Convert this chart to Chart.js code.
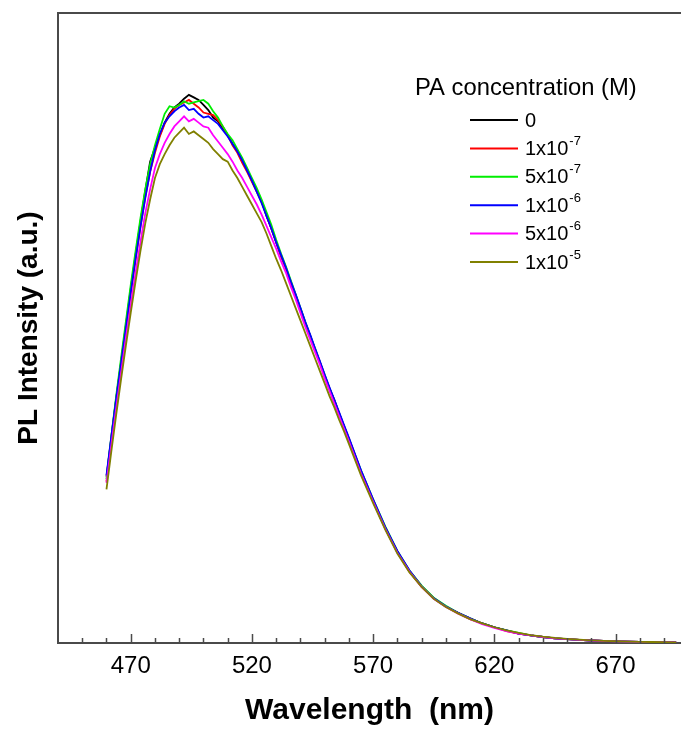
<!DOCTYPE html>
<html>
<head>
<meta charset="utf-8">
<script src="https://cdn.jsdelivr.net/npm/chart.js@4/dist/chart.umd.min.js"></script>
<style>
  html, body { margin: 0; padding: 0; background: #fff; overflow: hidden; }
  canvas { display: block; }
</style>
</head>
<body>
<canvas id="plChart" width="681" height="729"></canvas>
<script>
// wavelength grid (nm)
const wavelengths = [
  460, 462, 464, 466, 468, 470, 472, 474, 476, 478,
  480, 482, 484, 486, 488, 490, 492, 494, 496, 498,
  500, 502, 504, 506, 508, 510, 512, 514, 516, 518,
  520, 522, 524, 526, 528, 530, 532, 534, 536, 538,
  540, 542, 544, 546, 548, 550, 552, 554, 556, 558,
  560, 565, 570, 575, 580, 585, 590, 595, 600, 605,
  610, 615, 620, 625, 630, 635, 640, 645, 650, 655,
  660, 665, 670, 675, 680, 685, 690, 695
];

const seriesLabels = ["0", "1x10", "5x10", "1x10", "5x10", "1x10"];
const seriesExponents = ["", "-7", "-7", "-6", "-6", "-5"];
const seriesColors = ["#000000", "#ff0000", "#00ee00", "#0000ff", "#ff00ff", "#808000"];

const pa0 = [
  26.4, 32.6, 38.8, 44.6, 50.4, 56.2, 61.6, 66.8, 71.8, 76.4,
  78.6, 80.6, 82.6, 84.0, 85.0, 85.6, 86.4, 87.0, 86.6, 86.2,
  85.4, 84.6, 83.4, 82.8, 81.6, 80.6, 79.2, 78.2, 76.4, 75.2,
  73.4, 71.8, 70.2, 67.8, 65.8, 63.6, 61.4, 59.6, 57.2, 55.2,
  53.0, 50.8, 48.8, 46.6, 44.6, 42.4, 40.4, 38.6, 36.4, 34.4,
  32.4, 27.2, 22.6, 18.3, 14.5, 11.4, 9.0, 7.1, 5.8, 4.8,
  3.9, 3.1, 2.5, 2.0, 1.5, 1.2, 0.95, 0.75, 0.6, 0.48,
  0.4, 0.32, 0.26, 0.21, 0.17, 0.14, 0.12, 0.1
];
const pa1e7 = [
  25.6, 32.0, 38.2, 44.0, 49.8, 55.4, 60.8, 66.0, 70.8, 74.8,
  77.8, 80.4, 82.4, 83.8, 84.8, 85.4, 85.8, 86.2, 85.6, 85.0,
  84.2, 84.0, 83.8, 83.0, 82.0, 80.6, 79.0, 77.8, 76.2, 74.8,
  73.2, 71.6, 70.0, 68.0, 65.8, 63.6, 61.4, 59.4, 57.2, 55.2,
  53.0, 50.8, 48.8, 46.6, 44.6, 42.4, 40.4, 38.4, 36.4, 34.4,
  32.4, 27.0, 22.5, 18.2, 14.4, 11.3, 8.9, 7.1, 5.8, 4.7,
  3.8, 3.1, 2.5, 1.9, 1.5, 1.2, 0.95, 0.75, 0.6, 0.48,
  0.4, 0.32, 0.26, 0.21, 0.17, 0.14, 0.12, 0.1
];
const pa5e7 = [
  26.0, 32.8, 39.2, 45.2, 51.0, 56.8, 62.2, 67.4, 72.0, 76.0,
  79.0, 81.6, 84.0, 85.2, 85.0, 85.4, 86.0, 85.6, 85.8, 86.0,
  86.2, 85.6, 84.4, 83.4, 82.0, 80.8, 79.8, 78.4, 77.0, 75.4,
  73.8, 72.2, 70.4, 68.4, 66.4, 64.0, 61.8, 59.8, 57.6, 55.4,
  53.2, 51.0, 48.8, 46.8, 44.6, 42.6, 40.4, 38.4, 36.4, 34.4,
  32.4, 27.4, 22.8, 18.5, 14.6, 11.5, 9.1, 7.2, 5.9, 4.8,
  3.9, 3.1, 2.5, 2.0, 1.6, 1.2, 0.95, 0.75, 0.6, 0.48,
  0.4, 0.32, 0.26, 0.21, 0.17, 0.14, 0.12, 0.1
];
const pa1e6 = [
  26.6, 32.8, 38.8, 44.4, 50.0, 55.6, 61.0, 66.0, 70.6, 74.8,
  78.2, 80.8, 82.6, 83.6, 84.4, 85.0, 85.4, 84.6, 84.8, 84.0,
  83.4, 83.6, 83.0, 82.4, 81.4, 80.4, 79.2, 78.0, 76.6, 75.0,
  73.4, 71.6, 69.8, 67.8, 65.8, 63.6, 61.6, 59.6, 57.4, 55.4,
  53.2, 51.0, 49.0, 46.8, 44.8, 42.6, 40.6, 38.6, 36.6, 34.6,
  32.6, 27.4, 22.8, 18.4, 14.6, 11.5, 9.0, 7.1, 5.8, 4.8,
  3.9, 3.1, 2.5, 2.0, 1.5, 1.2, 0.95, 0.75, 0.6, 0.48,
  0.4, 0.32, 0.26, 0.21, 0.17, 0.14, 0.12, 0.1
];
const pa5e6 = [
  25.4, 31.4, 37.2, 42.8, 48.4, 53.6, 58.8, 63.6, 68.2, 72.0,
  75.4, 77.6, 79.4, 80.8, 82.0, 82.8, 83.6, 82.8, 83.2, 82.6,
  82.0, 81.8, 80.6, 79.6, 78.6, 77.6, 76.4, 75.0, 73.8, 72.4,
  71.0, 69.6, 68.0, 66.2, 64.4, 62.6, 60.6, 58.8, 56.6, 54.6,
  52.4, 50.2, 48.2, 46.2, 44.2, 42.0, 40.0, 38.0, 36.0, 34.0,
  32.0, 26.9, 22.4, 18.1, 14.3, 11.3, 8.9, 7.0, 5.7, 4.7,
  3.8, 3.0, 2.4, 1.9, 1.5, 1.2, 0.95, 0.75, 0.6, 0.48,
  0.4, 0.32, 0.26, 0.21, 0.17, 0.14, 0.12, 0.1
];
const pa1e5 = [
  24.4, 30.4, 36.2, 41.8, 47.2, 52.4, 57.4, 62.2, 66.6, 70.4,
  73.8, 76.0, 77.6, 79.0, 80.2, 81.0, 81.8, 80.8, 81.2, 80.6,
  80.0, 79.4, 78.4, 77.6, 76.8, 76.4, 75.0, 73.8, 72.4, 71.0,
  69.6, 68.2, 66.8, 65.0, 63.0, 61.0, 59.2, 57.2, 55.2, 53.2,
  51.2, 49.2, 47.2, 45.2, 43.2, 41.2, 39.2, 37.4, 35.4, 33.6,
  31.6, 26.6, 22.2, 18.0, 14.2, 11.2, 8.9, 7.0, 5.7, 4.7,
  3.8, 3.1, 2.5, 2.0, 1.6, 1.25, 1.0, 0.8, 0.65, 0.52,
  0.43, 0.35, 0.28, 0.23, 0.19, 0.16, 0.13, 0.11
];

const xTicks = [470, 520, 570, 620, 670];
const axisColor = "#4a4a4a";
const fontFamily = '"Liberation Sans", Arial, Helvetica, sans-serif';

Chart.defaults.font.family = fontFamily;
Chart.defaults.color = "#000";

const allSeries = [pa0, pa1e7, pa5e7, pa1e6, pa5e6, pa1e5];

const datasets = allSeries.map((values, i) => ({
  label: seriesLabels[i] + seriesExponents[i],
  data: values.map((v, j) => ({ x: wavelengths[j], y: v })),
  borderColor: seriesColors[i],
  borderWidth: 1.8,
  pointRadius: 0,
  tension: 0,
  fill: false,
  order: allSeries.length - i,
}));

// inward ticks on the x axis + top frame line
const framePlugin = {
  id: "frame",
  afterDraw(chart) {
    const { ctx, chartArea } = chart;
    const x = chart.scales.x;
    ctx.save();
    ctx.strokeStyle = axisColor;
    ctx.lineWidth = 2;
    ctx.beginPath();
    ctx.moveTo(chartArea.left - 1, chartArea.top);
    ctx.lineTo(chartArea.right, chartArea.top);
    ctx.stroke();

    ctx.lineWidth = 1.5;
    for (let v = 450; v <= 690; v += 10) {
      const px = Math.round(x.getPixelForValue(v)) + 0.5;
      const len = xTicks.includes(v) ? 9 : 5;
      ctx.beginPath();
      ctx.moveTo(px, chartArea.bottom);
      ctx.lineTo(px, chartArea.bottom - len);
      ctx.stroke();
    }
    ctx.restore();
  },
};

// legend with superscript exponents
const legendPlugin = {
  id: "supLegend",
  afterDraw(chart) {
    const { ctx } = chart;
    ctx.save();
    ctx.fillStyle = "#000";
    ctx.textBaseline = "middle";
    ctx.textAlign = "left";
    ctx.font = "23.8px " + fontFamily;
    ctx.fillText("PA concentration (M)", 415, 88);

    chart.data.datasets.forEach((ds, i) => {
      const y = 120 + i * 28.4;
      ctx.strokeStyle = ds.borderColor;
      ctx.lineWidth = 2;
      ctx.beginPath();
      ctx.moveTo(470, y);
      ctx.lineTo(518, y);
      ctx.stroke();

      ctx.font = "20px " + fontFamily;
      ctx.fillText(seriesLabels[i], 525, y + 1);
      if (seriesExponents[i]) {
        const w = ctx.measureText(seriesLabels[i]).width;
        ctx.font = "13px " + fontFamily;
        ctx.fillText(seriesExponents[i], 525 + w + 1, y - 7);
      }
    });
    ctx.restore();
  },
};

new Chart(document.getElementById("plChart"), {
  type: "line",
  data: { datasets },
  options: {
    responsive: false,
    animation: false,
    layout: { padding: { top: 13, left: 0, right: 0, bottom: 0 } },
    scales: {
      x: {
        type: "linear",
        min: 440,
        max: 697,
        afterBuildTicks: (axis) => {
          axis.ticks = xTicks.map((v) => ({ value: v }));
        },
        afterFit: (scale) => {
          scale.height = 86;
        },
        grid: { display: false, drawTicks: false },
        border: { display: true, color: axisColor, width: 2 },
        ticks: {
          padding: 9,
          color: "#000",
          font: { size: 24 },
          maxRotation: 0,
          autoSkip: false,
        },
        title: {
          display: true,
          text: "Wavelength  (nm)",
          color: "#000",
          font: { size: 30, weight: "bold" },
          padding: { top: 0, bottom: 0 },
        },
      },
      y: {
        min: 0,
        max: 100,
        afterFit: (scale) => {
          scale.width = 58;
        },
        grid: { display: false, drawTicks: false },
        border: { display: true, color: axisColor, width: 2 },
        ticks: { display: false },
        title: {
          display: true,
          text: "PL Intensity (a.u.)",
          color: "#000",
          font: { size: 28, weight: "bold" },
          padding: { top: 12, bottom: 0 },
        },
      },
    },
    plugins: {
      legend: { display: false },
      tooltip: { enabled: false },
    },
  },
  plugins: [framePlugin, legendPlugin],
});
</script>
</body>
</html>
